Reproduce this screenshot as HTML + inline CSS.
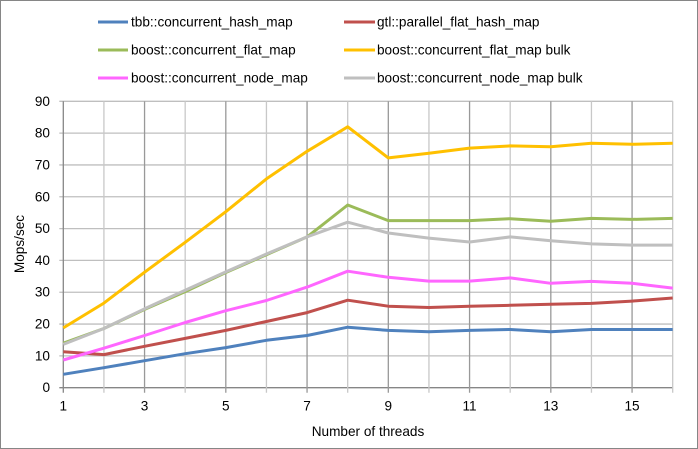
<!DOCTYPE html>
<html><head><meta charset="utf-8"><style>
body{margin:0;background:#fff}
svg{display:block;font-family:"Liberation Sans",sans-serif}
</style></head><body>
<svg id="s" width="698" height="449" xmlns="http://www.w3.org/2000/svg">
<rect x="0.5" y="0.5" width="697" height="448" fill="#fff" stroke="#868686"/>
<g id="grid"></g>
<g id="lines" fill="none" stroke-width="3" stroke-linejoin="round"></g>
<g font-size="13.6" fill="#000">
<line x1="98" y1="22" x2="128" y2="22" stroke="#4f81bd" stroke-width="3"/><text x="131" y="26.5">tbb::concurrent_hash_map</text>
<line x1="344" y1="22" x2="375" y2="22" stroke="#c0504d" stroke-width="3"/><text x="377" y="26.5">gtl::parallel_flat_hash_map</text>
<line x1="98" y1="50" x2="128" y2="50" stroke="#9bbb59" stroke-width="3"/><text x="131" y="54.5">boost::concurrent_flat_map</text>
<line x1="344" y1="50" x2="375" y2="50" stroke="#ffc000" stroke-width="3"/><text x="377" y="54.5">boost::concurrent_flat_map bulk</text>
<line x1="98" y1="78" x2="128" y2="78" stroke="#ff66ff" stroke-width="3"/><text x="131" y="82.5">boost::concurrent_node_map</text>
<line x1="344" y1="78" x2="375" y2="78" stroke="#bfbfbf" stroke-width="3"/><text x="377" y="82.5">boost::concurrent_node_map bulk</text>
<text x="368" y="436" text-anchor="middle">Number of threads</text>
<text transform="translate(24,244) rotate(-90)" text-anchor="middle">Mops/sec</text>
</g>
<g id="ticks" font-size="13.6"></g>
</svg>
<script>
var L=63.3,R=672.7,T=101.3,B=387.7,dx=(R-L)/15,dy=(B-T)/90;
var g=document.getElementById('grid'),tk=document.getElementById('ticks'),ln=document.getElementById('lines');
var h='',t='';
for(var v=0;v<=90;v+=10){var y=B-v*dy;h+='<line x1="'+(L-4)+'" x2="'+R+'" y1="'+y+'" y2="'+y+'" stroke="'+(v==0?'#868686':'#bfbfbf')+'" stroke-width="1.3"/>';t+='<text x="50" y="'+(y+4.5)+'" text-anchor="end">'+v+'</text>';}
for(var i=1;i<=16;i++){var x=L+(i-1)*dx;h+='<line x1="'+x+'" x2="'+x+'" y1="'+T+'" y2="'+(B+5)+'" stroke="'+(i==1?'#868686':(i%2?'#999':'#c8c8c8'))+'" stroke-width="1.3"/>';if(i%2)t+='<text x="'+x+'" y="'+(B+23)+'" text-anchor="middle">'+i+'</text>';}
g.innerHTML=h;tk.innerHTML=t;
var D=[
['#4f81bd',[4.2,6.3,8.5,10.7,12.6,14.9,16.4,19,18,17.6,18,18.3,17.6,18.3,18.3,18.3]],
['#c0504d',[11.3,10.4,13,15.5,18,20.8,23.6,27.5,25.6,25.2,25.6,25.9,26.2,26.5,27.2,28.2]],
['#9bbb59',[14,18.6,24.6,30.2,36.2,41.8,47.4,57.4,52.5,52.5,52.5,53.1,52.3,53.2,52.9,53.2]],
['#ffc000',[18.8,26.6,36.3,45.7,55.3,65.6,74.3,82,72.2,73.7,75.3,76,75.7,76.8,76.5,76.8]],
['#ff66ff',[8.7,12.4,16.4,20.5,24.2,27.4,31.6,36.6,34.7,33.5,33.5,34.5,32.8,33.4,32.8,31.3]],
['#bfbfbf',[13.6,18.6,24.8,30.6,36.4,42,47.4,52,48.6,47,45.8,47.4,46.2,45.2,44.8,44.8]]];
var s='';D.forEach(function(d){var p=d[1].map(function(v,i){return (L+i*dx).toFixed(1)+','+(B-v*dy).toFixed(1)}).join(' ');s+='<polyline stroke="'+d[0]+'" points="'+p+'"/>';});
ln.innerHTML=s;
</script>
</body></html>
